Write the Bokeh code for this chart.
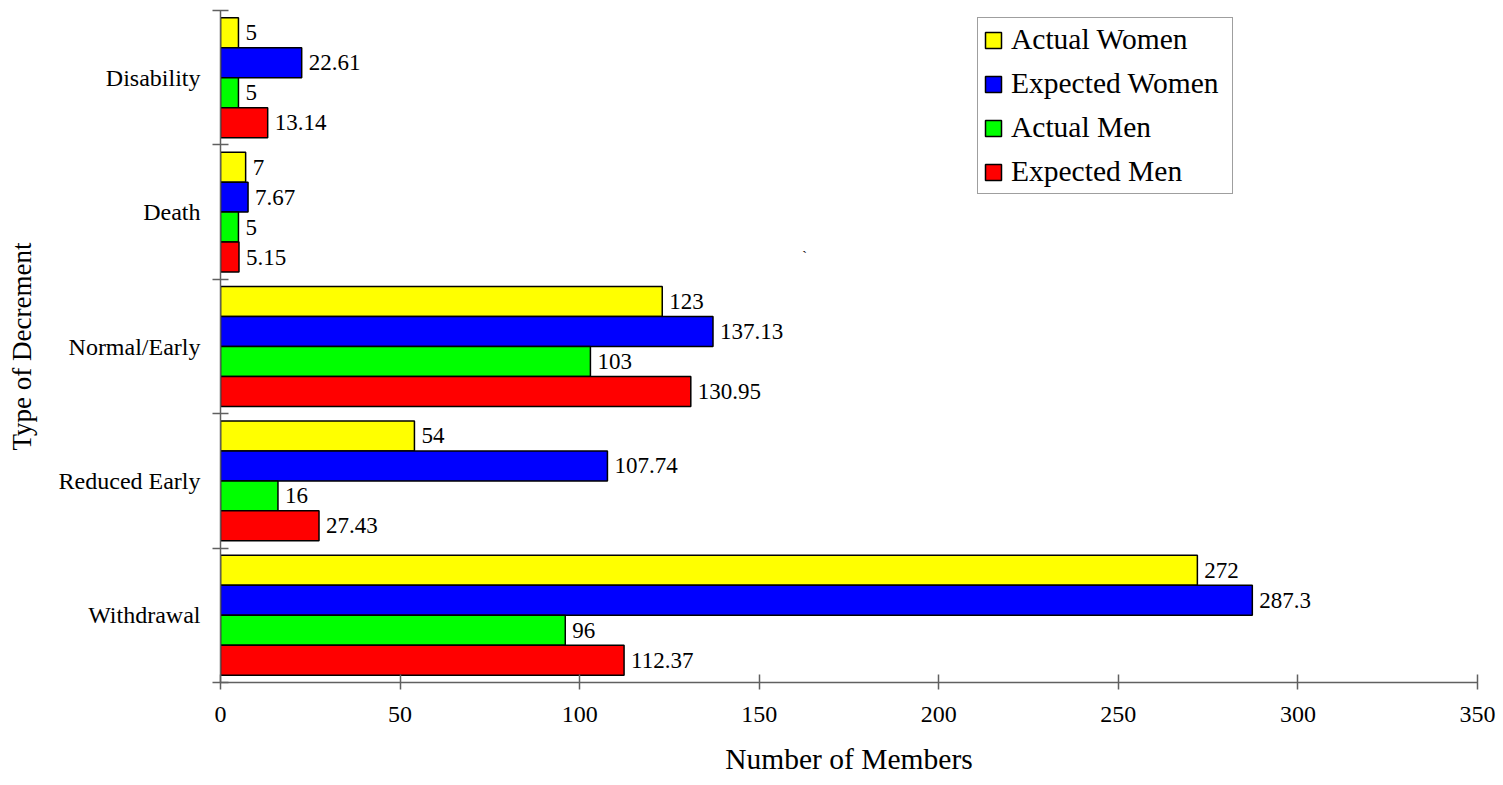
from bokeh.plotting import figure
from bokeh.models import ColumnDataSource, FixedTicker, Legend, LegendItem, Label, Range1d
from bokeh.embed import file_html
from bokeh.resources import INLINE
from bokeh.core.properties import value

# Decrement types, listed bottom to top
categories = ["Withdrawal", "Reduced Early", "Normal/Early", "Death", "Disability"]

actual_women = [272, 54, 123, 7, 5]
expected_women = [287.3, 107.74, 137.13, 7.67, 22.61]
actual_men = [96, 16, 103, 5, 5]
expected_men = [112.37, 27.43, 130.95, 5.15, 13.14]

series_names = ["Actual Women", "Expected Women", "Actual Men", "Expected Men"]
series_values = [actual_women, expected_women, actual_men, expected_men]
series_colors = ["#FFFF00", "#0000FF", "#00FF00", "#FF0000"]

x_ticks = [0, 50, 100, 150, 200, 250, 300, 350]

FONT = "Liberation Serif"
AXIS_GREY = "#606060"
BAR_H = 0.223
offsets = [1.5 * BAR_H, 0.5 * BAR_H, -0.5 * BAR_H, -1.5 * BAR_H]

p = figure(
    width=1503, height=785,
    x_range=Range1d(0, 350), y_range=Range1d(0, len(categories)),
    output_backend="svg", toolbar_location=None,
    min_border_left=220, min_border_right=26, min_border_top=10, min_border_bottom=103,
)
p.outline_line_color = None
p.xgrid.visible = False
p.ygrid.visible = False
p.background_fill_color = "white"
p.border_fill_color = "white"

centers = [i + 0.5 for i in range(len(categories))]

legend_items = []
for name, vals, color, off in zip(series_names, series_values, series_colors, offsets):
    src = ColumnDataSource(dict(
        y=[c + off for c in centers],
        right=vals,
        label=[f"{v:g}" for v in vals],
    ))
    r = p.hbar(y="y", right="right", left=0, height=BAR_H, source=src,
               fill_color=color, line_color="black", line_width=1.5)
    p.text(x="right", y="y", text="label", source=src, x_offset=7,
           text_font=value(FONT), text_font_size="23px", text_color="black",
           text_baseline="middle", text_align="left")
    legend_items.append(LegendItem(label=name, renderers=[r]))

# x axis
xa = p.xaxis[0]
xa.ticker = FixedTicker(ticks=x_ticks)
xa.axis_label = "Number of Members"
xa.axis_line_color = AXIS_GREY
xa.axis_line_width = 1.5
xa.major_tick_line_color = AXIS_GREY
xa.major_tick_line_width = 1.5
xa.major_tick_in = 8
xa.major_tick_out = 7
xa.minor_tick_line_color = None
xa.major_label_text_font = FONT
xa.major_label_text_font_size = "24px"
xa.major_label_text_color = "black"
xa.major_label_standoff = 17
xa.axis_label_text_font = FONT
xa.axis_label_text_font_size = "29.5px"
xa.axis_label_text_font_style = "normal"
xa.axis_label_text_color = "black"
xa.axis_label_standoff = 18

# y axis: names at group centres, tick marks at group boundaries
ya = p.yaxis[0]
ya.ticker = FixedTicker(ticks=centers, minor_ticks=list(range(len(categories) + 1)))
ya.major_label_overrides = {c: name for c, name in zip(centers, categories)}
ya.axis_label = "Type of Decrement"
ya.axis_line_color = AXIS_GREY
ya.axis_line_width = 1.5
ya.major_tick_in = 0
ya.major_tick_out = 0
ya.minor_tick_line_color = AXIS_GREY
ya.minor_tick_line_width = 1.5
ya.minor_tick_in = 8
ya.minor_tick_out = 8
ya.major_label_text_font = FONT
ya.major_label_text_font_size = "24px"
ya.major_label_text_color = "black"
ya.major_label_standoff = 12
ya.axis_label_text_font = FONT
ya.axis_label_text_font_size = "27px"
ya.axis_label_text_font_style = "normal"
ya.axis_label_text_color = "black"
ya.axis_label_standoff = 19

legend = Legend(
    items=legend_items,
    location=(757, 488),
    orientation="vertical",
    glyph_width=20, glyph_height=20,
    label_text_font=FONT, label_text_font_size="29.5px", label_text_color="black",
    label_standoff=8, label_width=216, label_height=33,
    spacing=11, padding=5, margin=0,
    border_line_color="#404040", border_line_width=1.5,
    background_fill_color="white", background_fill_alpha=1.0,
)
p.add_layout(legend, "center")

p.add_layout(Label(x=162.0, y=3.222, text="`", text_font=FONT,
                   text_font_size="14px", text_color="black", text_baseline="top"))

open("out.html", "w").write(file_html(p, INLINE))
